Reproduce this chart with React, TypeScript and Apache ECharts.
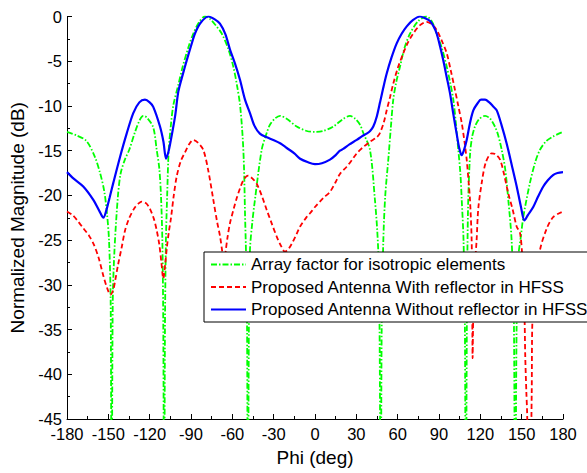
import React, { useEffect, useRef } from "react";
import * as echarts from "echarts";

const seriesNames = [
  "Array factor for isotropic elements",
  "Proposed Antenna With reflector in HFSS",
  "Proposed Antenna Without reflector in HFSS",
];

const xTicks = { min: -180, max: 180, step: 30 };
const yTicks = { min: -45, max: 0, step: 5 };

// Array factor (green)
const afPhi = [
  -180, -173, -166, -160, -156, -153, -151, -149.5, -148.3, -147.6, -146.8, -145.5, -143, -141, -138, -134.8,
  -130.6, -127, -124.6, -122, -117.4, -114.9, -113, -111.8, -110.8, -110.1, -109.5, -108.9, -108.2, -107.3,
  -106.2, -104.5, -102.8, -99, -96, -92, -88.3, -84, -80, -76, -72, -67.7, -63, -59.3, -56.5, -54.4, -52.5,
  -51.5, -50.8, -50, -49.3, -48.7, -48, -47.2, -45.5, -43.6, -38.7, -35, -32.7, -29, -25.4, -20, -13.3, -6, 0,
  6, 13.3, 20, 25.4, 29, 32.7, 35, 39.9, 43.5, 45.2, 46.3, 47, 47.7, 48.4, 49.6, 51, 53.2, 55, 56.8, 59, 61.7,
  65, 69, 75, 81, 85, 88.3, 92, 95.6, 98, 100.4, 102.3, 104, 105.5, 106.5, 107.8, 108.8, 109.5, 110.2, 111,
  112.5, 114, 116.1, 119, 123.4, 127, 130.6, 133, 135.5, 138, 140.3, 142.7, 144.3, 145.3, 146.3, 147.5, 149.5,
  151.2, 156, 160, 163.3, 168, 173, 180,
];
const afDb = [
  -12.9, -13.3, -13.9, -15.6, -17.5, -19.5, -22, -25, -32, -60, -32, -26, -20, -17.5, -16, -14.9,
  -12.9, -11.5, -11.1, -11.3, -12.4, -14.9, -17, -20, -25, -35, -60, -35, -25, -20,
  -15, -12, -9.9, -7.5, -5.6, -3.5, -1.9, -0.6, 0, -0.3, -1.0, -1.9, -3.6, -5.6, -7.8, -9.9, -13.5,
  -17, -22, -27, -35, -60, -35, -26.1, -23, -20.5, -14.9, -13, -12.1, -11.4, -11.1, -11.5, -12.3, -12.8, -12.9,
  -12.8, -12.3, -11.5, -11.1, -11.4, -12.1, -13, -14.9, -20.5, -24, -28, -38, -60, -35, -25, -20, -16, -12.5, -9.3, -7.3, -5.6,
  -3.5, -1.9, -0.5, 0, -0.6, -1.9, -3.5, -5.6, -7.3, -9.3, -12, -14.9, -17.5, -20.5, -25, -35, -60, -35, -22,
  -15.5, -13.5, -12.3, -11.5, -11.1, -11.4, -12.3, -13.3, -14.9, -17, -20.5, -25, -33, -60, -35, -27, -24.5,
  -22.4, -18.6, -16.2, -14.9, -13.9, -13.4, -12.9,
];

// With reflector (red)
const withPhi = [
  -180, -176, -172, -168, -164, -160.5, -157, -153.6, -151, -148.5, -146.5, -145, -143, -140.3, -138, -135,
  -131, -128, -125.8, -122.5, -119.8, -117, -114.9, -113, -111.5, -110.1, -108.8, -107.5, -106, -104.5, -102.5,
  -100.4, -97.5, -94.4, -91, -88.3, -85, -81.1, -77.5, -73.8, -71, -69, -67.3, -65.9, -65.1, -63.5, -61.7, -59,
  -56.8, -54.4, -52, -50, -48.4, -45.5, -42.3, -38.5, -35.1, -31.5, -27.8, -24.5, -21.8, -18.8, -15.8, -13.3,
  -10.9, -6, -3.6, 0, 6, 10.9, 15, 18.1, 23, 27, 30.3, 35, 39.9, 44.8, 47.2, 50, 52, 54.5, 56.8, 60, 64.1, 67.5,
  71.3, 76, 81, 85, 88.3, 92, 95.6, 98.5, 101.6, 104, 106.5, 108.5, 110.1, 111.5, 112.5, 113.7, 114.1, 114.4,
  114.8, 116, 117.3, 118.5, 121, 124, 128.2, 131, 134.3, 137, 140.3, 143.5, 146.4, 148.8, 150.5, 152, 152.6,
  153.4, 154, 155, 156.5, 157.3, 157.8, 160, 163.3, 168.2, 173, 180,
];
const withDb = [
  -21.8, -22.2, -22.9, -23.7, -24.5, -25.5, -27, -29, -30.3, -31.1, -30.6, -29.5, -27.8, -25.8, -24, -22.6,
  -21.4, -20.9, -20.7, -20.9, -21.5, -22.6, -23.9, -25.5, -27.5, -29.3, -27.8, -25.8, -24, -22.5, -20,
  -17.9, -16.2, -15.2, -14.2, -13.8, -14.1, -14.9, -17.2, -20.5, -23, -24.5, -26.3, -28, -26.6, -24.7, -23.1, -21.5,
  -20.3, -19.2, -18.3, -17.9, -17.8, -18.1, -18.7, -20.1, -21.6, -23.1, -24.6, -25.7, -26.3, -25.9, -25.1, -24.3,
  -23.5, -22.4, -22, -21.3, -20.3, -19.6, -18.5, -17.6, -16.8, -16.0, -15.3, -14.6, -14.0, -13.5, -13.0, -11.8, -10.5, -9, -7.5, -5.8, -4.1, -2.9,
  -1.9, -1.0, -0.6, -0.9, -1.5, -2.7, -4.1, -6, -8.2, -10, -11.9, -14, -16.0, -18.5, -20.5, -25, -32, -38.2,
  -34, -28, -25, -21.5, -18.6, -16.3, -15.3, -15.4, -16.0, -17.5, -19.8, -21.6, -23.5, -24.2, -27, -33, -38,
  -42, -44.5, -55, -50, -42, -34, -30, -26.1, -23.7, -22.4, -21.8,
];

// Without reflector (blue)
const withoutPhi = [
  -180, -175.4, -168.2, -160.9, -156, -153.6, -151.5, -149, -146.4, -141.5, -136.7, -131.9, -127.5, -123.4, -120,
  -117.4, -112.5, -110, -108.1, -106.5, -105.2, -101.6, -99.2, -96, -93.1, -90, -87.1, -83, -77.4, -73, -69, -65,
  -61.7, -58, -54.4, -50.8, -47.2, -44, -40, -35, -30.3, -25, -20.5, -15, -10.8, -5, 0, 5, 10.9, 15, 18.1, 20.5,
  25, 30.3, 34, 37.5, 40, 42.3, 44.8, 47.2, 49.5, 52, 55.5, 59.3, 63, 66.6, 71, 76.2, 80, 83.5, 86, 88.3, 90.7,
  93.1, 95.5, 98, 100.5, 102.8, 104.8, 106.5, 108, 110.1, 112.5, 114.9, 118, 120.5, 123.4, 126.5, 129, 131.9,
  135.5, 139.1, 142.8, 146.4, 149.5, 152, 154.5, 158.4, 162, 165.7, 169, 173, 176, 180,
];
const withoutDb = [
  -17.4, -18.1, -19.0, -20.5, -21.9, -22.5, -21.7, -20.2, -18.6, -15.7, -13.1, -10.8, -9.6, -9.3, -9.6,
  -10.1, -12.3, -14, -15.9, -15.2, -14.3, -11.2, -8.4, -6.5, -4.9, -3.3, -1.9, -0.7, 0, -0.3, -0.8, -2.0,
  -3.7, -5.3, -7.1, -9.3, -10.8, -12.2, -13.1, -13.5, -13.8, -14.2, -14.7, -15.3, -15.9, -16.3, -16.5, -16.4, -16.0, -15.5, -15.0, -14.8,
  -14.3, -13.8, -13.4, -13.1, -12.8, -12.3, -11.2, -9.6, -8.0, -6.4, -4.6, -3.0, -1.9, -1.1, -0.4, 0, -0.2, -0.5, -1.1, -1.9, -3.3,
  -4.9, -6.7, -8.6, -11, -13.1, -14.8, -15.5, -15.0, -13.8, -11.9, -10.5, -9.7, -9.3, -9.3, -9.6, -10, -10.5,
  -12.2, -14.2, -16.6, -19.0, -21.3, -22.8, -22.2, -21.3, -20.1, -19.0, -18.3, -17.7, -17.5, -17.4,
];

const zip = (xs: number[], ys: number[]) => xs.map((x, i) => [x, ys[i]]);

const FONT = "'Liberation Sans', Arial, sans-serif";

export default function App() {
  const ref = useRef<HTMLDivElement>(null);
  useEffect(() => {
    if (!ref.current) return;
    const chart = echarts.init(ref.current, undefined, { renderer: "svg" });
    chart.setOption({
      animation: false,
      backgroundColor: "#fff",
      textStyle: { fontFamily: FONT },
      grid: { left: 67, right: 24, top: 16.5, bottom: 54, containLabel: false },
      legend: {
        orient: "vertical",
        left: 204,
        top: 252,
        padding: [4, 12, 4, 6],
        borderColor: "#000",
        borderWidth: 1,
        backgroundColor: "#fff",
        itemWidth: 35,
        itemHeight: 17,
        itemGap: 5.5,
        itemStyle: { opacity: 0 },
        textStyle: { fontSize: 17, color: "#000", fontFamily: FONT, lineHeight: 17 },
        data: seriesNames,
      },
      xAxis: {
        type: "value",
        min: xTicks.min,
        max: xTicks.max,
        interval: xTicks.step,
        name: "Phi (deg)",
        nameLocation: "middle",
        nameGap: 29,
        nameTextStyle: { fontSize: 19, color: "#000", fontFamily: FONT },
        axisLine: { show: true, onZero: false, lineStyle: { color: "#000", width: 1 } },
        axisTick: { show: true, inside: true, length: 5, lineStyle: { color: "#000" } },
        minorTick: { show: true, splitNumber: 2, length: 3, lineStyle: { color: "#000" } },
        axisLabel: { fontSize: 16.5, color: "#000", margin: 6, fontFamily: FONT },
        splitLine: { show: false },
      },
      yAxis: {
        type: "value",
        min: yTicks.min,
        max: yTicks.max,
        interval: yTicks.step,
        name: "Normalized Magnitude (dB)",
        nameLocation: "middle",
        nameGap: 33,
        nameTextStyle: { fontSize: 19, color: "#000", fontFamily: FONT },
        axisLine: { show: true, onZero: false, lineStyle: { color: "#000", width: 1 } },
        axisTick: { show: true, inside: true, length: 5, lineStyle: { color: "#000" } },
        minorTick: { show: true, splitNumber: 2, length: 3, lineStyle: { color: "#000" } },
        axisLabel: { fontSize: 16.5, color: "#000", margin: 5, fontFamily: FONT },
        splitLine: { show: false },
      },
      series: [
        {
          name: seriesNames[0],
          type: "line",
          symbol: "none",
          smooth: 0.3,
          clip: true,
          data: zip(afPhi, afDb),
          lineStyle: { color: "#00ff00", width: 1.8, type: [6, 2, 1.5, 2] },
          itemStyle: { color: "#00ff00" },
          z: 2,
        },
        {
          name: seriesNames[1],
          type: "line",
          symbol: "none",
          smooth: 0.3,
          clip: true,
          data: zip(withPhi, withDb),
          lineStyle: { color: "#ff0000", width: 1.8, type: [5, 3] },
          itemStyle: { color: "#ff0000" },
          z: 3,
        },
        {
          name: seriesNames[2],
          type: "line",
          symbol: "none",
          smooth: 0.3,
          clip: true,
          data: zip(withoutPhi, withoutDb),
          lineStyle: { color: "#0000ff", width: 2.2 },
          itemStyle: { color: "#0000ff" },
          z: 4,
        },
      ],
    });
    return () => chart.dispose();
  }, []);
  return <div ref={ref} style={{ width: 587, height: 473, position: "absolute", left: 0, top: 0 }} />;
}
